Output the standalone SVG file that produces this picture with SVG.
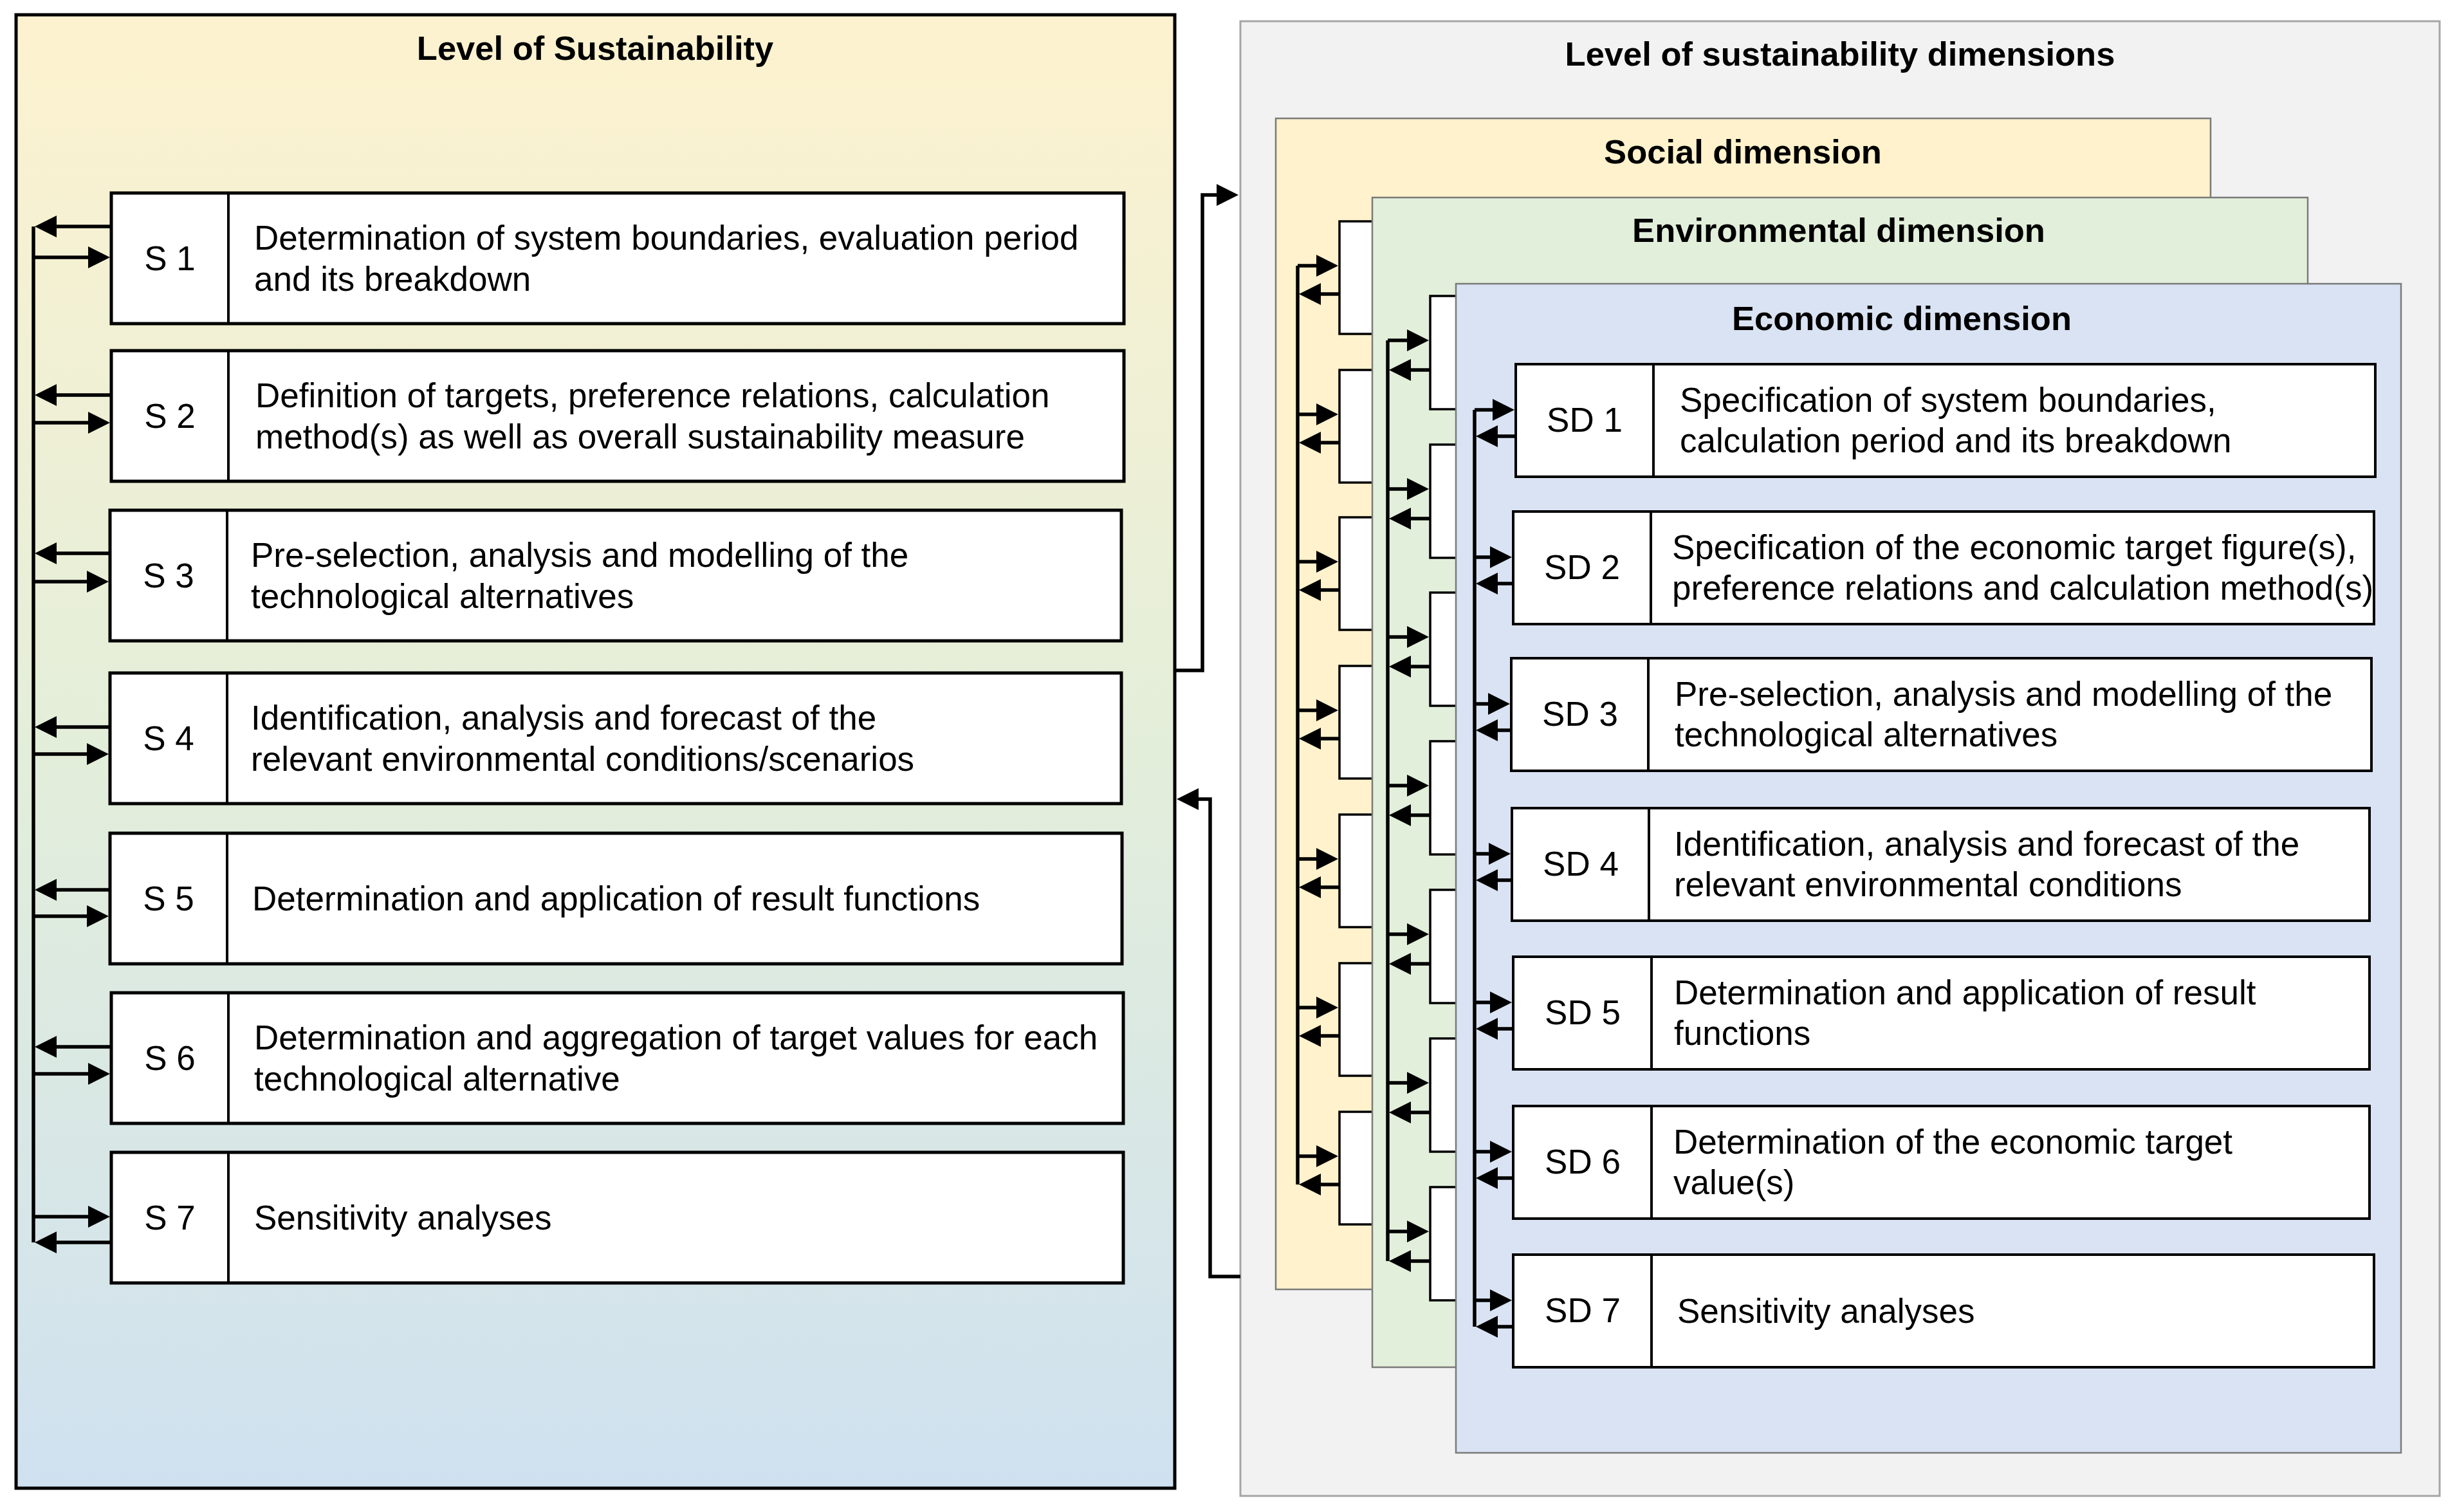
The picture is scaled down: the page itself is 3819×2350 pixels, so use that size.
<svg xmlns="http://www.w3.org/2000/svg" width="3819" height="2350" viewBox="0 0 3819 2350">
<style>
text{font-family:"Liberation Sans",Arial,sans-serif;font-size:53px;fill:#000}
.title{font-weight:bold;text-anchor:middle;font-size:52.5px}
.lbl{text-anchor:middle}
.sbox{fill:#fff;stroke:#000;stroke-width:5}
.sdbox{fill:#fff;stroke:#000;stroke-width:4}
.hbox{fill:#fff;stroke:#000;stroke-width:3.5}
.div{stroke:#000;stroke-width:4}
.dim{stroke:#7a7a7a;stroke-width:2.5}
.conn path{fill:none;stroke:#000;stroke-width:5.5}
.arr{marker-end:url(#ah)}
</style>
<defs>
<linearGradient id="lg" x1="0" y1="0" x2="0" y2="1">
<stop offset="0" stop-color="#fdf2cf"/>
<stop offset="0.5" stop-color="#e3eeda"/>
<stop offset="1" stop-color="#cfe1f0"/>
</linearGradient>
<marker id="ah" markerUnits="userSpaceOnUse" markerWidth="34" markerHeight="34" refX="24" refY="17" orient="auto">
<path d="M0,0 L34,17 L0,34 Z" fill="#000"/>
</marker>
</defs>
<rect width="3819" height="2350" fill="#fff"/>

<g id="panel-sustainability">
<rect x="25" y="23" width="1801" height="2290" fill="url(#lg)" stroke="#000" stroke-width="5"/>
<text class="title" x="925" y="93">Level of Sustainability</text>
</g>

<g id="S1"><rect class="sbox" x="173" y="300" width="1574" height="203"/><line class="div" x1="355" y1="300" x2="355" y2="503"/>
<text class="lbl" x="264" y="420">S 1</text>
<text x="395" y="388">Determination of system boundaries, evaluation period</text><text x="395" y="452">and its breakdown</text></g>
<g id="S2"><rect class="sbox" x="173" y="545" width="1574" height="203"/><line class="div" x1="355" y1="545" x2="355" y2="748"/>
<text class="lbl" x="264" y="665">S 2</text>
<text x="397" y="633">Definition of targets, preference relations, calculation</text><text x="397" y="697">method(s) as well as overall sustainability measure</text></g>
<g id="S3"><rect class="sbox" x="171" y="793" width="1572" height="203"/><line class="div" x1="353" y1="793" x2="353" y2="996"/>
<text class="lbl" x="262" y="913">S 3</text>
<text x="390" y="881">Pre-selection, analysis and modelling of the</text><text x="390" y="945">technological alternatives</text></g>
<g id="S4"><rect class="sbox" x="171" y="1046" width="1572" height="203"/><line class="div" x1="353" y1="1046" x2="353" y2="1249"/>
<text class="lbl" x="262" y="1166">S 4</text>
<text x="390" y="1134">Identification, analysis and forecast of the</text><text x="390" y="1198">relevant environmental conditions/scenarios</text></g>
<g id="S5"><rect class="sbox" x="171" y="1295" width="1573" height="203"/><line class="div" x1="353" y1="1295" x2="353" y2="1498"/>
<text class="lbl" x="262" y="1415">S 5</text>
<text x="392" y="1415">Determination and application of result functions</text></g>
<g id="S6"><rect class="sbox" x="173" y="1543" width="1573" height="203"/><line class="div" x1="355" y1="1543" x2="355" y2="1746"/>
<text class="lbl" x="264" y="1663">S 6</text>
<text x="395" y="1631">Determination and aggregation of target values for each</text><text x="395" y="1695">technological alternative</text></g>
<g id="S7"><rect class="sbox" x="173" y="1791" width="1573" height="203"/><line class="div" x1="355" y1="1791" x2="355" y2="1994"/>
<text class="lbl" x="264" y="1911">S 7</text>
<text x="395" y="1911">Sensitivity analyses</text></g>

<g id="panel-dimensions">
<rect x="1928" y="33" width="1864" height="2292" fill="#f2f2f2" stroke="#a6a6a6" stroke-width="3"/>
<text class="title" x="2860" y="102">Level of sustainability dimensions</text>
</g>

<g id="panel-social">
<rect class="dim" x="1983" y="184" width="1453" height="1820" fill="#fff2cc"/>
<text class="title" x="2709" y="254">Social dimension</text>
</g>
<g id="social-steps">
<rect class="hbox" x="2082" y="344" width="400" height="175"/>
<rect class="hbox" x="2082" y="575" width="400" height="175"/>
<rect class="hbox" x="2082" y="804" width="400" height="175"/>
<rect class="hbox" x="2082" y="1035" width="400" height="175"/>
<rect class="hbox" x="2082" y="1266" width="400" height="175"/>
<rect class="hbox" x="2082" y="1497" width="400" height="175"/>
<rect class="hbox" x="2082" y="1728" width="400" height="175"/>
</g>

<g id="panel-environmental">
<rect class="dim" x="2133" y="307" width="1454" height="1818" fill="#e2efda"/>
<text class="title" x="2858" y="376">Environmental dimension</text>
</g>
<g id="environmental-steps">
<rect class="hbox" x="2223" y="460" width="400" height="176"/>
<rect class="hbox" x="2223" y="691" width="400" height="176"/>
<rect class="hbox" x="2223" y="921" width="400" height="176"/>
<rect class="hbox" x="2223" y="1152" width="400" height="176"/>
<rect class="hbox" x="2223" y="1383" width="400" height="176"/>
<rect class="hbox" x="2223" y="1614" width="400" height="176"/>
<rect class="hbox" x="2223" y="1845" width="400" height="176"/>
</g>

<g id="panel-economic">
<rect class="dim" x="2263" y="441" width="1469" height="1817" fill="#dae3f3"/>
<text class="title" x="2956" y="513">Economic dimension</text>
</g>

<g id="SD1"><rect class="sdbox" x="2356" y="566" width="1336" height="175"/><line class="div" x1="2570" y1="566" x2="2570" y2="741"/>
<text class="lbl" x="2463" y="671">SD 1</text>
<text x="2611" y="640">Specification of system boundaries,</text><text x="2611" y="703">calculation period and its breakdown</text></g>
<g id="SD2"><rect class="sdbox" x="2352" y="795" width="1338" height="175"/><line class="div" x1="2566" y1="795" x2="2566" y2="970"/>
<text class="lbl" x="2459" y="900">SD 2</text>
<text x="2599" y="869">Specification of the economic target figure(s),</text><text x="2599" y="932">preference relations and calculation method(s)</text></g>
<g id="SD3"><rect class="sdbox" x="2349" y="1023" width="1337" height="175"/><line class="div" x1="2562" y1="1023" x2="2562" y2="1198"/>
<text class="lbl" x="2456" y="1128">SD 3</text>
<text x="2603" y="1097">Pre-selection, analysis and modelling of the</text><text x="2603" y="1160">technological alternatives</text></g>
<g id="SD4"><rect class="sdbox" x="2350" y="1256" width="1333" height="175"/><line class="div" x1="2563" y1="1256" x2="2563" y2="1431"/>
<text class="lbl" x="2457" y="1361">SD 4</text>
<text x="2602" y="1330">Identification, analysis and forecast of the</text><text x="2602" y="1393">relevant environmental conditions</text></g>
<g id="SD5"><rect class="sdbox" x="2352" y="1487" width="1331" height="175"/><line class="div" x1="2567" y1="1487" x2="2567" y2="1662"/>
<text class="lbl" x="2460" y="1592">SD 5</text>
<text x="2602" y="1561">Determination and application of result</text><text x="2602" y="1624">functions</text></g>
<g id="SD6"><rect class="sdbox" x="2352" y="1719" width="1331" height="175"/><line class="div" x1="2567" y1="1719" x2="2567" y2="1894"/>
<text class="lbl" x="2460" y="1824">SD 6</text>
<text x="2601" y="1793">Determination of the economic target</text><text x="2601" y="1856">value(s)</text></g>
<g id="SD7"><rect class="sdbox" x="2352" y="1950" width="1338" height="175"/><line class="div" x1="2567" y1="1950" x2="2567" y2="2125"/>
<text class="lbl" x="2460" y="2055">SD 7</text>
<text x="2607" y="2056">Sensitivity analyses</text></g>

<g id="connectors" class="conn">
<path d="M52,352 V1931"/>
<path class="arr" d="M173,352 H64"/><path class="arr" d="M52,400 H161"/>
<path class="arr" d="M173,614 H64"/><path class="arr" d="M52,657 H161"/>
<path class="arr" d="M171,860 H64"/><path class="arr" d="M52,904 H159"/>
<path class="arr" d="M171,1130 H64"/><path class="arr" d="M52,1172 H159"/>
<path class="arr" d="M171,1383 H64"/><path class="arr" d="M52,1424 H159"/>
<path class="arr" d="M173,1627 H64"/><path class="arr" d="M52,1669 H161"/>
<path class="arr" d="M52,1891 H161"/><path class="arr" d="M173,1931 H64"/>

<path class="arr" d="M1828,1042 H1869 V303 H1915"/>
<path class="arr" d="M1928,1984 H1881 V1242 H1839"/>

<path d="M2017,413 V1841"/>
<path class="arr" d="M2017,413 H2070"/><path class="arr" d="M2082,457 H2029"/>
<path class="arr" d="M2017,644 H2070"/><path class="arr" d="M2082,688 H2029"/>
<path class="arr" d="M2017,873 H2070"/><path class="arr" d="M2082,917 H2029"/>
<path class="arr" d="M2017,1104 H2070"/><path class="arr" d="M2082,1148 H2029"/>
<path class="arr" d="M2017,1335 H2070"/><path class="arr" d="M2082,1379 H2029"/>
<path class="arr" d="M2017,1566 H2070"/><path class="arr" d="M2082,1610 H2029"/>
<path class="arr" d="M2017,1797 H2070"/><path class="arr" d="M2082,1841 H2029"/>

<path d="M2157,529 V1960"/>
<path class="arr" d="M2157,529 H2211"/><path class="arr" d="M2223,575 H2169"/>
<path class="arr" d="M2157,760 H2211"/><path class="arr" d="M2223,806 H2169"/>
<path class="arr" d="M2157,990 H2211"/><path class="arr" d="M2223,1036 H2169"/>
<path class="arr" d="M2157,1221 H2211"/><path class="arr" d="M2223,1267 H2169"/>
<path class="arr" d="M2157,1452 H2211"/><path class="arr" d="M2223,1498 H2169"/>
<path class="arr" d="M2157,1683 H2211"/><path class="arr" d="M2223,1729 H2169"/>
<path class="arr" d="M2157,1914 H2211"/><path class="arr" d="M2223,1960 H2169"/>

<path d="M2292,637 V2062"/>
<path class="arr" d="M2292,637 H2344"/><path class="arr" d="M2356,678 H2304"/>
<path class="arr" d="M2292,866 H2340"/><path class="arr" d="M2352,907 H2304"/>
<path class="arr" d="M2292,1094 H2337"/><path class="arr" d="M2349,1135 H2304"/>
<path class="arr" d="M2292,1327 H2338"/><path class="arr" d="M2350,1368 H2304"/>
<path class="arr" d="M2292,1558 H2340"/><path class="arr" d="M2352,1599 H2304"/>
<path class="arr" d="M2292,1790 H2340"/><path class="arr" d="M2352,1831 H2304"/>
<path class="arr" d="M2292,2021 H2340"/><path class="arr" d="M2352,2062 H2304"/>
</g>
</svg>
